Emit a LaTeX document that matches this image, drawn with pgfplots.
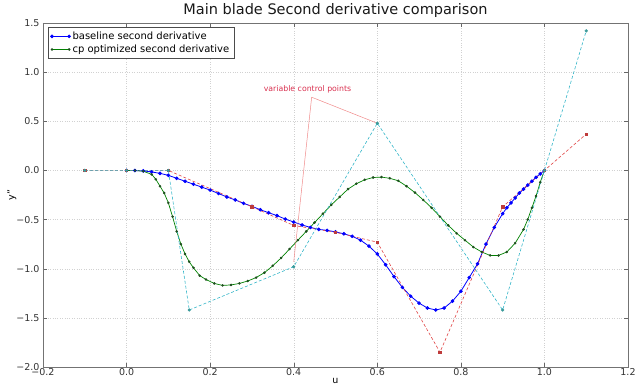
\documentclass[border=0pt]{standalone}
\usepackage{pgfplots}
\pgfplotsset{compat=1.18}
\usepackage{fontspec}
\setmainfont{DejaVu Sans}
\definecolor{cpcyan}{HTML}{33B5C8}
\definecolor{cpcyanmk}{HTML}{3A9A9A}
\definecolor{cpred}{HTML}{E04545}
\definecolor{annred}{HTML}{D9304F}
\definecolor{annline}{HTML}{F08A8A}
\definecolor{gdark}{HTML}{1F4F1F}
\begin{document}
\begin{tikzpicture}
\begin{axis}[
  scale only axis, width=585pt, height=344pt,
  xmin=-0.2, xmax=1.2, ymin=-2, ymax=1.5,
  xtick={-0.2,0,0.2,0.4,0.6,0.8,1.0,1.2},
  xticklabels={−0.2,0.0,0.2,0.4,0.6,0.8,1.0,1.2},
  ytick={-2,-1.5,-1,-0.5,0,0.5,1,1.5},
  yticklabels={−2.0,−1.5,−1.0,−0.5,0.0,0.5,1.0,1.5},
  ticklabel style={font=\fontsize{9.5}{10}\selectfont, text=black!80},
  xticklabel style={yshift=2pt},
  grid=major, grid style={dotted, black!18},
  axis line style={black!55},
  major tick length=4pt,
  tick style={black!60},
  title={Main blade Second derivative comparison},
  title style={font=\fontsize{14.5}{16}\selectfont, at={(0.5,1)}, anchor=base, yshift=2.5pt, text=black!90},
  xlabel={u}, ylabel={y''},
  xlabel style={font=\fontsize{9.5}{10}\selectfont, at={(axis description cs:0.5,0)}, anchor=center, yshift=-14pt},
  ylabel style={font=\fontsize{9.5}{10}\selectfont, at={(axis description cs:-0.053,0.5)}, anchor=center, rotate=0},
  legend style={at={(rel axis cs:0.0085,0.988)}, anchor=north west, draw=black!70, font=\fontsize{10}{12}\selectfont, cells={anchor=west}, inner sep=2.5pt, row sep=0pt},
  legend image code/.code={
    \draw[mark repeat=2, mark phase=1, #1] plot coordinates {(0cm,0cm) (0.3cm,0cm) (0.6cm,0cm)};
  },
]
\addplot[blue, line width=0.8pt, mark=*, mark size=1.4pt, mark options={solid, fill=blue, draw=blue}] table {
x y
0.00 0
0.02 -0.001
0.04 -0.005
0.06 -0.015
0.08 -0.03
0.10 -0.05
0.12 -0.08
0.14 -0.11
0.16 -0.14
0.18 -0.17
0.20 -0.20
0.22 -0.235
0.24 -0.27
0.26 -0.30
0.28 -0.335
0.30 -0.365
0.32 -0.40
0.34 -0.43
0.36 -0.46
0.38 -0.495
0.40 -0.525
0.42 -0.555
0.44 -0.58
0.46 -0.60
0.48 -0.61
0.50 -0.625
0.52 -0.645
0.54 -0.67
0.56 -0.71
0.58 -0.77
0.60 -0.85
0.62 -0.96
0.64 -1.08
0.66 -1.19
0.68 -1.28
0.70 -1.35
0.72 -1.40
0.74 -1.42
0.76 -1.40
0.78 -1.33
0.80 -1.23
0.82 -1.09
0.84 -0.95
0.86 -0.75
0.88 -0.58
0.90 -0.44
0.91 -0.38
0.92 -0.33
0.93 -0.28
0.94 -0.23
0.95 -0.19
0.96 -0.15
0.97 -0.11
0.98 -0.07
0.99 -0.035
1.00 0
};
\addlegendentry{baseline second derivative}
\addplot[green!50!black, line width=0.7pt, mark=*, mark size=0.9pt, mark options={solid, fill=gdark, draw=gdark}] table {
x y
0.00 0
0.02 -0.001
0.04 -0.008
0.06 -0.04
0.07 -0.09
0.08 -0.16
0.09 -0.23
0.10 -0.33
0.11 -0.47
0.12 -0.62
0.13 -0.75
0.14 -0.85
0.15 -0.93
0.16 -0.99
0.175 -1.07
0.19 -1.11
0.21 -1.15
0.23 -1.17
0.25 -1.165
0.27 -1.15
0.29 -1.125
0.31 -1.09
0.33 -1.04
0.35 -0.97
0.37 -0.89
0.39 -0.80
0.41 -0.71
0.43 -0.62
0.45 -0.53
0.47 -0.44
0.49 -0.35
0.51 -0.27
0.53 -0.19
0.55 -0.135
0.57 -0.095
0.59 -0.072
0.61 -0.068
0.63 -0.08
0.65 -0.105
0.67 -0.16
0.69 -0.225
0.71 -0.30
0.73 -0.38
0.75 -0.47
0.77 -0.56
0.79 -0.64
0.81 -0.71
0.83 -0.78
0.85 -0.83
0.87 -0.865
0.89 -0.865
0.91 -0.83
0.93 -0.74
0.95 -0.60
0.96 -0.50
0.97 -0.38
0.98 -0.26
0.99 -0.12
1.00 0
};
\addlegendentry{cp optimized second derivative}
\addplot[forget plot, cpred, densely dashed, line width=0.6pt, mark=square*, mark size=1.2pt, mark options={solid, fill=cpred!85!black, draw=cpred!85!black}] table {
x y
-0.1 0
0.0 0
0.1 0
0.3 -0.37
0.4 -0.56
0.5 -0.63
0.6 -0.73
0.75 -1.85
0.9 -0.37
1.0 0
1.1 0.37
};
\addplot[forget plot, cpcyan, densely dashed, line width=0.6pt, mark=*, mark size=1.3pt, mark options={solid, fill=cpcyanmk, draw=cpcyanmk}] table {
x y
-0.1 0
0.0 0
0.1 0
0.15 -1.42
0.4 -0.98
0.6 0.48
0.9 -1.42
1.0 0
1.1 1.42
};
\node[text=annred, font=\fontsize{7.8}{9}\selectfont] at (axis cs:0.433,0.83) {variable control points};
\draw[annline, line width=0.5pt] (axis cs:0.443,0.745) -- (axis cs:0.6,0.48);
\draw[annline, line width=0.5pt] (axis cs:0.443,0.745) -- (axis cs:0.4,-0.93);
\end{axis}
\pgfresetboundingbox
\path[use as bounding box] (-43pt,-18pt) rectangle (594pt,367pt);
\end{tikzpicture}
\end{document}
